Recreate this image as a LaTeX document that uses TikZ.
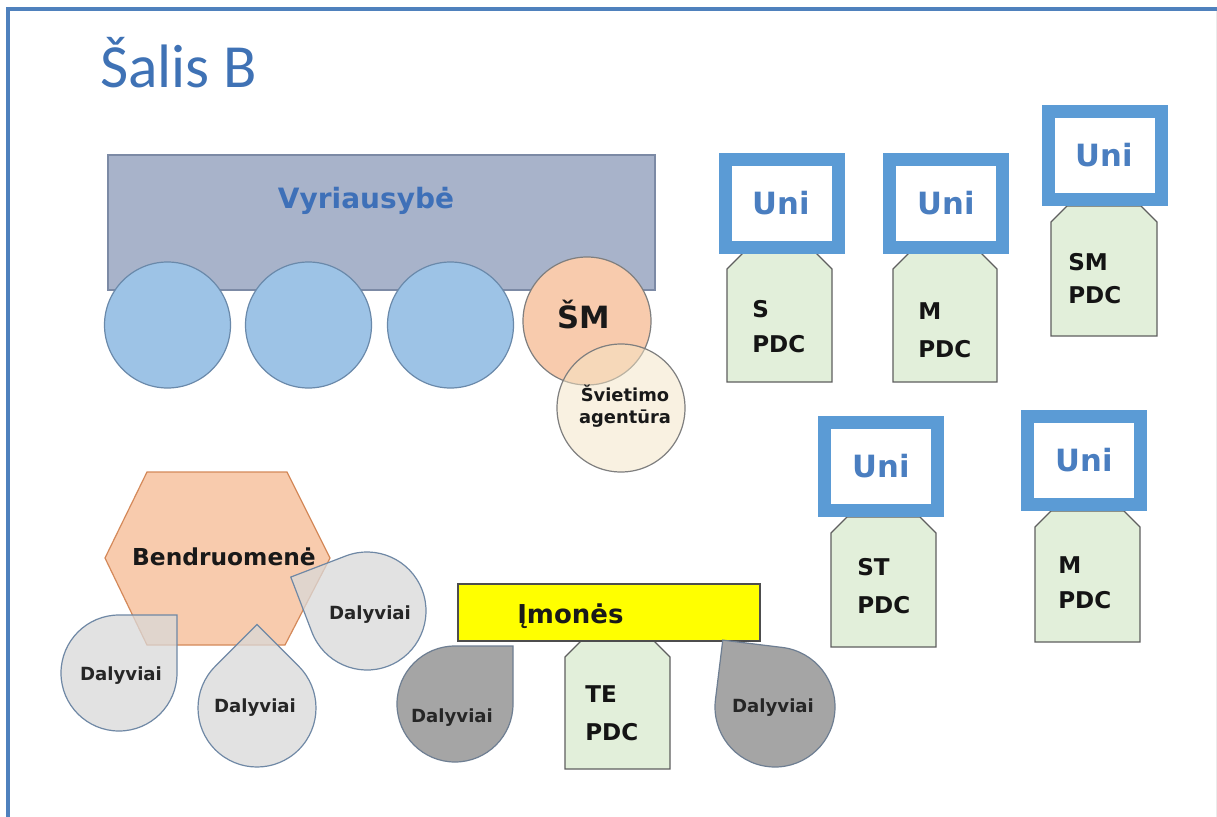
\documentclass[tikz,border=0pt]{standalone}
\usepackage{fontspec}
\setmainfont{DejaVu Sans}
\newfontfamily\titlefont{Carlito}
\definecolor{frameblue}{HTML}{4F81BD}
\definecolor{titleblue}{HTML}{3F72B5}
\definecolor{govfill}{HTML}{A8B3CA}
\definecolor{govline}{HTML}{7C8AA5}
\definecolor{govtext}{HTML}{3E70B8}
\definecolor{circfill}{HTML}{9DC3E6}
\definecolor{circline}{HTML}{6A89AA}
\definecolor{peach}{HTML}{F8CBAD}
\definecolor{greyline}{HTML}{7F7F7F}
\definecolor{cream}{HTML}{F5E5C5}
\definecolor{unifr}{HTML}{5B9BD5}
\definecolor{unitext}{HTML}{4A7EC0}
\definecolor{pdcfill}{HTML}{E2EFDA}
\definecolor{pdcline}{HTML}{5F5F5F}
\definecolor{hexline}{HTML}{D4895A}
\definecolor{dropline}{HTML}{6F88A5}
\definecolor{lightgrey}{HTML}{D9D9D9}
\definecolor{darkgrey}{HTML}{A5A5A5}
\definecolor{darkdropline}{HTML}{6E7E92}
\definecolor{yel}{HTML}{FFFF00}
\definecolor{yelline}{HTML}{4D4D4D}
\newcommand\tdrop[5][]{%
  \begin{scope}[shift={(#2,#3)},rotate=#5]
    \draw[#1] (0pt,#4*0.75pt) -- (#4*0.75pt,#4*0.75pt) -- (#4*0.75pt,0pt)
      arc[start angle=0,end angle=-270,radius=#4*0.75pt] -- cycle;
  \end{scope}}
\newcommand\pdcshape[4]{%
  \draw[pdc] (#1,#4) -- (#1,#3+16) -- (#1+16,#3) -- (#2-16,#3) -- (#2,#3+16) -- (#2,#4) -- cycle;}
\begin{document}
\begin{tikzpicture}[x=0.75pt,y=-0.75pt,
  lbl/.style={font=\bfseries, text=black!90, inner sep=0pt},
  unibox/.style={draw=unifr, line width=9.75pt, fill=white, minimum width=113*0.75pt,
    minimum height=88*0.75pt, inner sep=0pt, font=\bfseries\fontsize{23}{27}\selectfont, text=unitext},
  pdc/.style={draw=pdcline, fill=pdcfill, line width=0.9pt},
  pdctxt/.style={font=\bfseries\fontsize{17.3}{20}\selectfont, anchor=base west, inner sep=0pt, text=black!92},
  bluec/.style={circle, draw=circline, fill=circfill, minimum size=126*0.75pt, inner sep=0pt, line width=0.9pt},
  lightdrop/.style={draw=dropline, fill=lightgrey, fill opacity=0.75, line width=0.9pt},
  darkdrop/.style={draw=darkdropline, fill=darkgrey, line width=0.9pt},
  dtxt/.style={font=\bfseries\fontsize{13.6}{16}\selectfont, anchor=base, inner sep=0pt, text=black!85}]
\useasboundingbox (0,0) rectangle (1217,817);
\fill[white] (0,0) rectangle (1217,817);
% frame
\draw[frameblue, line width=3pt] (8,817) -- (8,9) -- (1217,9);
\draw[black!8, line width=0.75pt] (1216,11) -- (1216,817);
% title
\node[anchor=base west, inner sep=0pt, text=titleblue, font=\titlefont\fontsize{46}{50}\selectfont] (title) at (100,88) {Šalis B};
% government
\node[draw=govline, fill=govfill, line width=0.9pt, minimum width=547*0.75pt, minimum height=135*0.75pt, inner sep=0pt] (gov) at (381.5,222.5) {};
\node[anchor=base, inner sep=0pt, text=govtext, font=\bfseries\fontsize{21}{25}\selectfont] (govlbl) at (366,208) {Vyriausybė};
\node[bluec] (c1) at (167.5,325) {};
\node[bluec] (c2) at (308.5,325) {};
\node[bluec] (c3) at (450.5,325) {};
\node[circle, draw=greyline, fill=peach, minimum size=128*0.75pt, inner sep=0pt, line width=0.9pt] (sm) at (587,321) {};
\node[lbl, anchor=base, font=\bfseries\fontsize{23}{27}\selectfont] (smlbl) at (584,328) {ŠM};
\node[circle, draw=greyline, fill=cream, fill opacity=0.5, minimum size=128*0.75pt, inner sep=0pt, line width=0.9pt] (ag) at (621,408) {};
\node[lbl, align=center, font=\bfseries\fontsize{13.4}{16.5}\selectfont] (aglbl) at (625,406) {Švietimo\\agentūra};
% universities
\pdcshape{727}{832}{253}{382}
\pdcshape{893}{997}{253}{382}
\pdcshape{1051}{1157}{206}{336}
\pdcshape{831}{936}{517}{647}
\pdcshape{1035}{1140}{511}{642}
\node[unibox] (u1) at (781.5,203) {Uni};
\node[unibox] (u2) at (946,203) {Uni};
\node[unibox] (u3) at (1104.5,155) {Uni};
\node[unibox] (u4) at (881,466.5) {Uni};
\node[unibox] (u5) at (1084,460) {Uni};
\node[pdctxt] (p1a) at (752,317) {S};
\node[pdctxt] (p1b) at (752,352) {PDC};
\node[pdctxt] (p2a) at (918,319) {M};
\node[pdctxt] (p2b) at (918,357) {PDC};
\node[pdctxt] (p3a) at (1068,270) {SM};
\node[pdctxt] (p3b) at (1068,303) {PDC};
\node[pdctxt] (p4a) at (857,575) {ST};
\node[pdctxt] (p4b) at (857,613) {PDC};
\node[pdctxt] (p5a) at (1058,573) {M};
\node[pdctxt] (p5b) at (1058,608) {PDC};
% community
\draw[hexline, fill=peach, line width=0.9pt] (147,472) -- (287,472) -- (330,558) -- (285,645) -- (147,645) -- (105,558) -- cycle;
\node[lbl, anchor=base, font=\bfseries\fontsize{17.5}{21}\selectfont] (bend) at (224,565) {Bendruomenė};
\tdrop[lightdrop]{119}{673}{58}{0}
\tdrop[lightdrop]{257}{708}{59}{45}
\tdrop[lightdrop]{367}{611}{59}{111}
\node[dtxt] (dA) at (121,680) {Dalyviai};
\node[dtxt] (dB) at (255,712) {Dalyviai};
\node[dtxt] (dC) at (370,619) {Dalyviai};
% companies
\pdcshape{565}{670}{641}{769}
\node[pdctxt] (tea) at (585,702) {TE};
\node[pdctxt] (teb) at (585,740) {PDC};
\node[draw=yelline, fill=yel, line width=0.9pt, minimum width=302*0.75pt, minimum height=57*0.75pt, inner sep=0pt] (imo) at (609,612.5) {};
\node[lbl, anchor=base west, font=\bfseries\fontsize{19.5}{23}\selectfont] (imolbl) at (517,623) {Įmonės};
\tdrop[darkdrop]{455}{704}{58}{0}
\tdrop[darkdrop]{775}{707}{60}{83}
\node[dtxt] (dD) at (452,722) {Dalyviai};
\node[dtxt] (dE) at (773,712) {Dalyviai};
\end{tikzpicture}
\end{document}
